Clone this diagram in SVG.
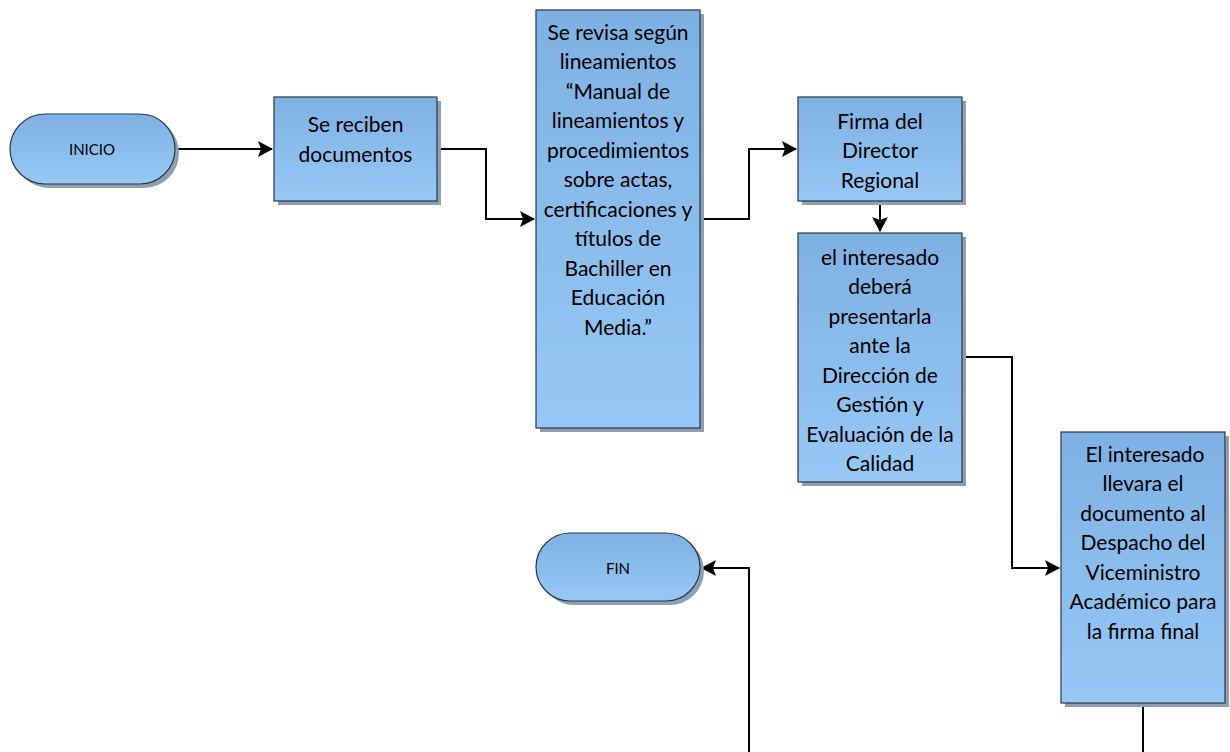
<svg xmlns="http://www.w3.org/2000/svg" width="1230" height="752" viewBox="0 0 1230 752">
<defs>
<linearGradient id="g" x1="0" y1="0" x2="0" y2="1">
<stop offset="0" stop-color="#7eb1e3"/>
<stop offset="1" stop-color="#97c8f5"/>
</linearGradient>
<marker id="arr" markerWidth="15" markerHeight="16" refX="14" refY="8" orient="auto" markerUnits="userSpaceOnUse">
<path d="M0,0 L15,8 L0,16 L3,8 Z" fill="#000"/>
</marker>
<style>
.sh{fill:#8d9fb0}
.bx{fill:url(#g);stroke:#2a3646;stroke-width:1.2}
.t{font-family:Lato,"Open Sans","Liberation Sans",sans-serif;font-size:21px;fill:#000;text-anchor:middle;dominant-baseline:central}
.ts{font-family:Lato,"Open Sans","Liberation Sans",sans-serif;font-size:15px;fill:#000;text-anchor:middle;dominant-baseline:central}
.c{fill:none;stroke:#000;stroke-width:2}
</style>
</defs>
<rect width="1230" height="752" fill="#fff"/>
<g id="connectors">
<path class="c" d="M175,149 H272" marker-end="url(#arr)"/>
<path class="c" d="M437,149 H486 V219 H534" marker-end="url(#arr)"/>
<path class="c" d="M700,219 H749 V149 H796" marker-end="url(#arr)"/>
<path class="c" d="M880,201 V231" marker-end="url(#arr)"/>
<path class="c" d="M962,357 H1012 V568 H1059" marker-end="url(#arr)"/>
<path class="c" d="M1143,703 V752"/>
<path class="c" d="M749,752 V568 H702" marker-end="url(#arr)"/>
</g>
<g id="inicio">
<rect class="sh" x="14" y="118" width="165" height="70" rx="35"/>
<rect class="bx" x="10" y="114" width="165" height="70" rx="35"/>
<text class="ts" x="92" y="149">INICIO</text>
</g>
<g id="recibir">
<rect class="sh" x="278" y="101" width="163" height="104"/>
<rect class="bx" x="274" y="97" width="163" height="104"/>
<text class="t" x="355.5" y="123">Se reciben</text>
<text class="t" x="355.5" y="153">documentos</text>
</g>
<g id="revisar">
<rect class="sh" x="540" y="14" width="164" height="418"/>
<rect class="bx" x="536" y="10" width="164" height="418"/>
<text class="t" x="618" y="31">Se revisa según</text>
<text class="t" x="618" y="60.5">lineamientos</text>
<text class="t" x="618" y="90">“Manual de</text>
<text class="t" x="618" y="119.5">lineamientos y</text>
<text class="t" x="618" y="149">procedimientos</text>
<text class="t" x="618" y="178.5">sobre actas,</text>
<text class="t" x="618" y="208">certificaciones y</text>
<text class="t" x="618" y="237.5">títulos de</text>
<text class="t" x="618" y="267">Bachiller en</text>
<text class="t" x="618" y="296.5">Educación</text>
<text class="t" x="618" y="326">Media.”</text>
</g>
<g id="firma">
<rect class="sh" x="802" y="101" width="164" height="104"/>
<rect class="bx" x="798" y="97" width="164" height="104"/>
<text class="t" x="880" y="120">Firma del</text>
<text class="t" x="880" y="149.5">Director</text>
<text class="t" x="880" y="179">Regional</text>
</g>
<g id="presentar">
<rect class="sh" x="802" y="237" width="164" height="249"/>
<rect class="bx" x="798" y="233" width="164" height="249"/>
<text class="t" x="880" y="256">el interesado</text>
<text class="t" x="880" y="285.5">deberá</text>
<text class="t" x="880" y="315">presentarla</text>
<text class="t" x="880" y="344.5">ante la</text>
<text class="t" x="880" y="374">Dirección de</text>
<text class="t" x="880" y="403.5">Gestión y</text>
<text class="t" x="880" y="433">Evaluación de la</text>
<text class="t" x="880" y="462.5">Calidad</text>
</g>
<g id="llevar">
<rect class="sh" x="1065" y="436" width="164" height="271"/>
<rect class="bx" x="1061" y="432" width="164" height="271"/>
<text class="t" x="1145" y="453">El interesado</text>
<text class="t" x="1143" y="482.5">llevara el</text>
<text class="t" x="1143" y="512">documento al</text>
<text class="t" x="1143" y="541.5">Despacho del</text>
<text class="t" x="1143" y="571">Viceministro</text>
<text class="t" x="1143" y="600.5">Académico para</text>
<text class="t" x="1143" y="630">la firma final</text>
</g>
<g id="fin">
<rect class="sh" x="540" y="537" width="164" height="68" rx="34"/>
<rect class="bx" x="536" y="533" width="164" height="68" rx="34"/>
<text class="ts" x="618" y="568">FIN</text>
</g>
</svg>
